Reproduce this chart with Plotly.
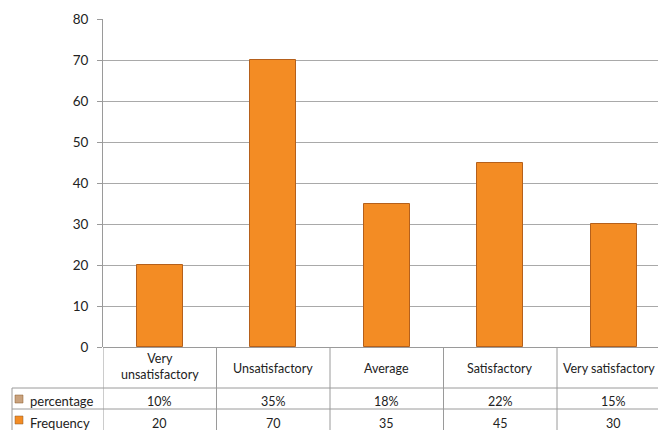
import plotly.graph_objects as go

# Survey responses per satisfaction level
categories = ["Very<br>unsatisfactory", "Unsatisfactory", "Average",
              "Satisfactory", "Very satisfactory"]
frequency = [20, 70, 35, 45, 30]
percentage = [10, 35, 18, 22, 15]
y_ticks = [0, 10, 20, 30, 40, 50, 60, 70, 80]

FONT = "Lato"
TEXT = "#222222"
GRID = "#a9a9a9"
LINE = "#9a9a9a"
BAR = "#f38c24"
BAR_EDGE = "#b5601b"
PCT_KEY = "#c9a27e"

W, H = 658, 430
ML, MR, MT, MB = 103, 0, 19, 83
plot_w = W - ML - MR
plot_h = H - MT - MB


def px_x(px):
    return (px - ML) / plot_w


def px_y(py):
    return (H - MB - py) / plot_h


xs = list(range(len(categories)))

fig = go.Figure()
fig.add_trace(go.Bar(
    x=xs, y=frequency, width=0.405,
    marker=dict(color=BAR, line=dict(color=BAR_EDGE, width=1)),
    name="Frequency", showlegend=False, hoverinfo="y",
))

shapes = []
annotations = []

# data table under the category axis
row_top = px_y(388)
row_mid = px_y(409)
table_bottom = px_y(440)
label_left = px_x(12)

for i in range(len(categories) + 1):
    shapes.append(dict(type="line", xref="x", yref="paper",
                       x0=i - 0.5, x1=i - 0.5, y0=0, y1=table_bottom,
                       line=dict(color=LINE, width=1)))
shapes.append(dict(type="line", xref="paper", yref="paper",
                   x0=label_left, x1=label_left, y0=row_top, y1=table_bottom,
                   line=dict(color=LINE, width=1)))
for yy in (row_top, row_mid):
    shapes.append(dict(type="line", xref="paper", yref="paper",
                       x0=label_left, x1=1.05, y0=yy, y1=yy,
                       line=dict(color=LINE, width=1)))

# series keys in the row headers
for (top, bottom, col) in ((395, 403, PCT_KEY), (416, 424, BAR)):
    shapes.append(dict(type="rect", xref="paper", yref="paper",
                       x0=px_x(15), x1=px_x(23), y0=px_y(bottom), y1=px_y(top),
                       fillcolor=col, line=dict(color="#8a5a2a", width=0.5)))

row_labels = [("percentage", px_y(401)), ("Frequency", px_y(423))]
for text, yy in row_labels:
    annotations.append(dict(xref="paper", yref="paper", x=px_x(28), y=yy,
                            text=text, showarrow=False, xanchor="left",
                            yanchor="middle",
                            font=dict(family=FONT, size=13, color=TEXT)))

last = len(categories) - 1
for i, cat in enumerate(categories):
    yy = px_y(366) if "<br>" in cat else px_y(368)
    if i == last:
        # last column runs past the right edge; keep its header inside
        annotations.append(dict(xref="paper", yref="paper", x=px_x(657),
                                y=yy, text=cat, showarrow=False,
                                xanchor="right", yanchor="middle",
                                font=dict(family=FONT, size=12.5, color=TEXT)))
    else:
        annotations.append(dict(xref="x", yref="paper", x=i, y=yy, text=cat,
                                showarrow=False, xanchor="center",
                                yanchor="middle",
                                font=dict(family=FONT, size=12.5, color=TEXT)))
    annotations.append(dict(xref="x", yref="paper", x=i, y=px_y(401),
                            text=f"{percentage[i]}%", showarrow=False,
                            xanchor="center", yanchor="middle",
                            font=dict(family=FONT, size=12.5, color=TEXT)))
    annotations.append(dict(xref="x", yref="paper", x=i, y=px_y(423),
                            text=str(frequency[i]), showarrow=False,
                            xanchor="center", yanchor="middle",
                            font=dict(family=FONT, size=12.5, color=TEXT)))

fig.update_layout(
    width=W, height=H,
    margin=dict(l=ML, r=MR, t=MT, b=MB, pad=0),
    paper_bgcolor="white", plot_bgcolor="white",
    font=dict(family=FONT, size=13, color=TEXT),
    bargap=0,
    shapes=shapes,
    annotations=annotations,
    xaxis=dict(range=[-0.5, -0.5 + plot_w / 113.5], showticklabels=False,
               showgrid=False, zeroline=False, showline=False, ticks="",
               fixedrange=True),
    yaxis=dict(range=[0, 80], tickvals=y_ticks, ticks="outside", ticklen=5,
               tickcolor=LINE, showline=True, linecolor=LINE, linewidth=1,
               showgrid=True, gridcolor=GRID, gridwidth=1, zeroline=True,
               zerolinecolor=LINE, zerolinewidth=1,
               tickfont=dict(family=FONT, size=13.5, color=TEXT),
               ticklabelstandoff=6, fixedrange=True),
)

fig.write_html("out.html")
